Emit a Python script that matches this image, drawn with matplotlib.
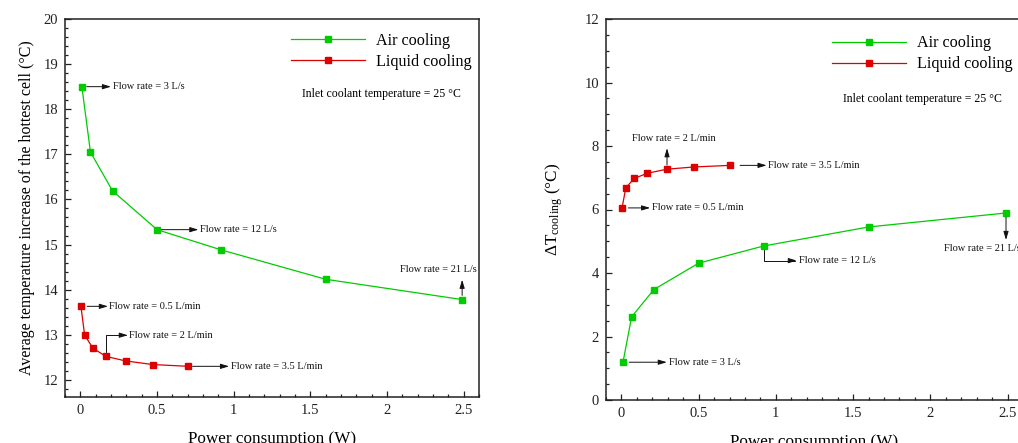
import matplotlib
matplotlib.use("Agg")
import matplotlib.pyplot as plt
from matplotlib.ticker import MultipleLocator

plt.rcParams['font.family'] = ['Liberation Serif', 'DejaVu Serif']
plt.rcParams['mathtext.fontset'] = 'custom'
plt.rcParams['mathtext.rm'] = 'Liberation Serif'
plt.rcParams['mathtext.it'] = 'Liberation Serif:italic'

# ---- data ----
air_power = [0.01, 0.066, 0.21, 0.50, 0.92, 1.60, 2.49]
liquid_power = [0.004, 0.028, 0.083, 0.167, 0.295, 0.471, 0.705]

air_hottest = [18.50, 17.05, 16.19, 15.33, 14.88, 14.23, 13.78]
liquid_hottest = [13.63, 12.99, 12.70, 12.52, 12.42, 12.34, 12.30]

air_dT = [1.19, 2.62, 3.48, 4.31, 4.85, 5.45, 5.89]
liquid_dT = [6.05, 6.68, 6.98, 7.14, 7.27, 7.34, 7.39]

series_labels = ["Air cooling", "Liquid cooling"]
xlabel = "Power consumption (W)"
ylabel_left = "Average temperature increase of the hottest cell (\u00b0C)"
ylabel_right = "\u0394T$_{\\mathrm{cooling}}$ (\u00b0C)"
inlet_note = "Inlet coolant temperature = 25 \u00b0C"

GREEN = '#00cc00'
RED = '#dd0000'

W, H = 1018, 443
fig = plt.figure(figsize=(W / 100, H / 100), dpi=100)

def px_axes(l, t, r, b):
    return fig.add_axes([l / W, 1 - b / H, (r - l) / W, (b - t) / H])

axL = px_axes(65, 19, 479, 397)
axR = px_axes(606, 19, 1023, 400)


def style(ax, ylim, ymaj, ymin):
    ax.set_xlim(-0.1, 2.6)
    ax.set_ylim(*ylim)
    ax.xaxis.set_major_locator(MultipleLocator(0.5))
    ax.xaxis.set_minor_locator(MultipleLocator(0.1))
    ax.yaxis.set_major_locator(MultipleLocator(ymaj))
    ax.yaxis.set_minor_locator(MultipleLocator(ymin))
    ax.tick_params(which='both', direction='in', top=False, right=False,
                   labelsize=10.5, colors='#222222', width=0.9)
    ax.tick_params(which='major', length=4, pad=5)
    ax.tick_params(which='minor', length=2.5)
    for s in ax.spines.values():
        s.set_linewidth(1.1)
        s.set_color('#222222')
    ticks = [0, 0.5, 1, 1.5, 2, 2.5]
    ax.set_xticks(ticks)
    ax.set_xticklabels(['0', '0.5', '1', '1.5', '2', '2.5'])


def draw(ax, ya, yl):
    ax.plot(air_power, ya, color=GREEN, lw=0.9, marker='s', ms=5,
            mfc=GREEN, mec=GREEN, label=series_labels[0])
    ax.plot(liquid_power, yl, color=RED, lw=0.9, marker='s', ms=5,
            mfc=RED, mec=RED, label=series_labels[1])


AP = dict(arrowstyle='-|>,head_length=0.5,head_width=0.15', color='#111111',
          lw=0.7, shrinkB=0)
AFS = 7.5


def ann(ax, text, start, head, txt, ha='left', va='center', shrinkA=3,
        elbow=None):
    props = dict(AP)
    props['shrinkA'] = shrinkA
    if elbow:
        props['connectionstyle'] = elbow
    ax.annotate('', xy=head, xytext=start, arrowprops=props)
    ax.text(txt[0], txt[1], text, fontsize=AFS, ha=ha, va=va, color='#111111')


LEG = dict(loc='upper left', frameon=False, fontsize=11.6, handlelength=4.6,
           handletextpad=0.7, borderpad=0, borderaxespad=0, labelspacing=0.3)

# ---- left panel ----
style(axL, (11.62, 20), 1, 0.2)
draw(axL, air_hottest, liquid_hottest)
axL.set_xlabel(xlabel, fontsize=12.3, labelpad=10)
axL.set_ylabel(ylabel_left, fontsize=11.5, labelpad=6)
axL.legend(bbox_to_anchor=(0.545, 0.963), **LEG)
axL.text(1.965, 18.33, inlet_note, fontsize=8.5, ha='center', va='center')

ann(axL, "Flow rate = 3 L/s", (air_power[0], air_hottest[0]), (0.20, air_hottest[0]),
    (0.21, air_hottest[0]), shrinkA=3.5)
ann(axL, "Flow rate = 12 L/s", (air_power[3], air_hottest[3]), (0.77, air_hottest[3]),
    (0.78, air_hottest[3]), shrinkA=3)
ann(axL, "Flow rate = 21 L/s", (air_power[6], air_hottest[6]), (air_power[6], 14.22),
    (2.335, 14.45), ha='center', shrinkA=3)
ann(axL, "Flow rate = 0.5 L/min", (liquid_power[0], liquid_hottest[0]), (0.18, liquid_hottest[0]),
    (0.19, liquid_hottest[0]), shrinkA=4.5)
ann(axL, "Flow rate = 2 L/min", (liquid_power[3], liquid_hottest[3]), (0.31, 12.99),
    (0.32, 12.99), shrinkA=3, elbow='angle,angleA=90,angleB=0,rad=0')
ann(axL, "Flow rate = 3.5 L/min", (liquid_power[6], liquid_hottest[6]), (0.97, liquid_hottest[6]),
    (0.98, liquid_hottest[6]), shrinkA=3)

# ---- right panel ----
style(axR, (0, 12), 2, 0.5)
axR.spines['right'].set_visible(False)
draw(axR, air_dT, liquid_dT)
axR.set_xlabel(xlabel, fontsize=12.3, labelpad=10)
axR.set_ylabel(ylabel_right, fontsize=12.3, labelpad=14)
axR.legend(bbox_to_anchor=(0.541, 0.957), **LEG)
axR.text(1.95, 9.49, inlet_note, fontsize=8.5, ha='center', va='center')

ann(axR, "Flow rate = 2 L/min", (liquid_power[4], liquid_dT[4]), (liquid_power[4], 7.93),
    (0.339, 8.25), ha='center', shrinkA=3)
ann(axR, "Flow rate = 3.5 L/min", (liquid_power[6], liquid_dT[6]), (0.94, liquid_dT[6]),
    (0.95, liquid_dT[6]), shrinkA=7)
ann(axR, "Flow rate = 0.5 L/min", (liquid_power[0], liquid_dT[0]), (0.186, liquid_dT[0]),
    (0.197, liquid_dT[0]), shrinkA=4.5)
ann(axR, "Flow rate = 12 L/s", (air_power[4], air_dT[4]), (1.136, 4.39),
    (1.147, 4.39), shrinkA=3, elbow='angle,angleA=-90,angleB=0,rad=0')
ann(axR, "Flow rate = 3 L/s", (air_power[0], air_dT[0]), (0.294, air_dT[0]),
    (0.309, air_dT[0]), shrinkA=4.5)
ann(axR, "Flow rate = 21 L/s", (air_power[6], air_dT[6]), (air_power[6], 5.04),
    (2.086, 4.78), ha='left', shrinkA=3)

fig.savefig('out.png', dpi=100)
